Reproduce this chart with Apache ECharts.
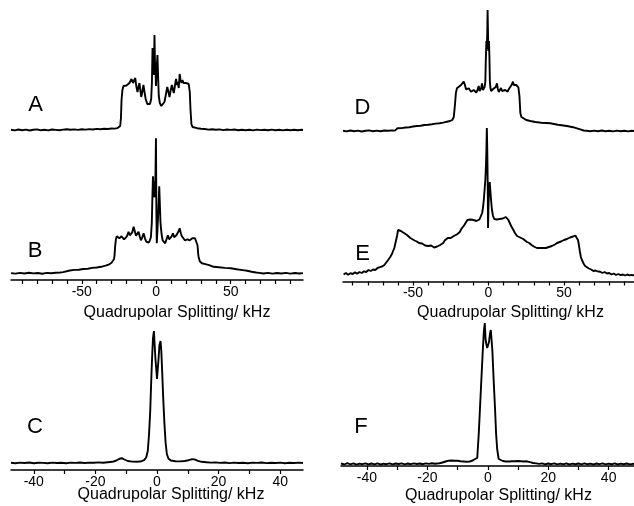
<!DOCTYPE html>
<html>
<head>
<meta charset="utf-8">
<script src="https://cdn.jsdelivr.net/npm/echarts@6/dist/echarts.min.js"></script>
<style>
  html, body { margin: 0; padding: 0; background: #fff; }
  #chart { width: 634px; height: 506px; }
</style>
</head>
<body>
<div id="chart"></div>
<script>
// spectra: [splitting kHz, intensity (arb.)]
const specA = [[-97.5,0.3],[-95,-0.4],[-92.5,0.5],[-90,-0.2],[-87.5,0.4],[-85,-0.5],[-82.5,0.3],[-80,0.6],[-77.5,-0.3],[-75,0.2],[-72.5,-0.4],[-70,0.5],[-67.5,0.1],[-65,-0.3],[-62.5,0.4],[-60,0.8],[-57.5,0.2],[-55,0.6],[-52.5,0.1],[-50,0.7],[-47.5,0.4],[-45,0.9],[-42.5,0.5],[-40,1.1],[-37.5,0.8],[-35,1.2],[-32.5,1.0],[-30,1.5],[-28,1.4],[-26,1.9],[-24.8,2.2],[-24.2,4],[-23.7,12],[-23.3,30],[-22.7,40],[-22,44],[-21,45],[-20,44.5],[-19,46],[-18,47],[-17.3,46],[-16.6,51],[-16.2,53],[-15.6,47],[-15.2,49],[-14.6,46],[-14.1,52],[-13.4,44],[-12.6,38],[-11.9,43],[-11.3,47],[-10.7,40],[-10.1,33],[-9.4,38],[-8.6,45],[-7.9,38],[-7.1,31],[-6,26],[-5.1,24],[-4.2,26],[-3.4,31],[-2.9,48],[-2.5,82],[-2.2,60],[-1.9,72],[-1.5,55],[-1.2,95],[-0.9,70],[-0.5,60],[-0.2,44],[0.3,60],[0.8,75],[1.2,55],[1.7,34],[2.4,27],[3.4,24],[4.5,25],[5.5,28],[6.4,35],[7.4,43],[8.2,38],[8.9,33],[9.7,40],[10.5,45],[11.2,40],[11.8,37],[12.6,45],[13.3,51],[13.9,45],[14.5,48],[15.1,42],[15.7,56],[16.3,50],[16.9,47],[17.6,50],[18.3,47],[19.1,48],[20,47],[21,47],[21.8,46],[22.5,38],[23,20],[23.6,6],[24.3,3],[25.5,2.2],[27.5,1.8],[30,1.2],[32.5,1.0],[35,0.4],[37.5,0.8],[40,0.3],[42.5,0.6],[45,-0.1],[47.5,0.5],[50,0.1],[52.5,0.5],[55,-0.2],[57.5,0.3],[60,-0.3],[62.5,0.2],[65,-0.4],[67.5,0.4],[70,-0.1],[72.5,0.3],[75,-0.3],[77.5,0.4],[80,-0.2],[82.5,0.3],[85,-0.4],[87.5,0.2],[90,-0.3],[92.5,0.3],[95,-0.2],[97.5,0.2],[98.5,0]];

const specB = [[-97.5,0.2],[-94.5,-0.3],[-91.5,0.4],[-88.5,-0.2],[-85.5,0.5],[-82.5,-0.1],[-79.5,0.3],[-76.5,-0.4],[-73.5,0.4],[-70.5,0.1],[-67.5,0.6],[-64.5,0.8],[-62.5,1.2],[-61.5,2.4],[-58,2.8],[-55,3.4],[-52,3.6],[-49,4.3],[-46,4.6],[-43,5.4],[-40,5.8],[-37,6.5],[-34,7.6],[-31.5,9],[-30,10.5],[-29,12.5],[-28.4,14],[-28,18],[-27.6,27],[-27.1,34],[-26.5,37],[-25.6,36],[-24.8,35],[-24.2,35.5],[-23.3,37],[-22.4,36],[-21.6,34],[-20.8,33],[-19.7,37],[-18.6,41.6],[-17.8,38],[-17,36],[-16.1,41],[-15.2,46.6],[-14.4,42],[-13.6,37.6],[-12.8,38.5],[-11.9,41.6],[-11.1,37],[-10.3,33],[-9.4,36],[-8.5,40],[-7.6,35],[-6.7,31.6],[-5.9,30],[-5.1,30.6],[-4.3,33],[-3.6,36],[-3,50],[-2.6,75],[-2.2,97],[-1.9,82],[-1.6,92],[-1.3,76],[-0.9,80],[-0.5,100],[-0.2,135],[0.1,60],[0.35,30],[0.7,40],[1.1,53],[1.6,70],[2,87],[2.4,70],[2.8,52],[3.1,46],[3.7,38],[4.3,33],[5.1,31],[6,30],[6.9,34],[7.8,38],[8.6,34],[9.4,33],[10.3,37],[11.2,40],[12,36],[12.8,35],[13.5,38],[14.3,40],[15,42],[15.7,45],[16.5,40],[17.2,37],[17.8,38],[18.3,36],[19.2,33],[20.1,31.6],[20.9,34],[21.7,35],[22.5,33],[23.3,33],[24.2,35],[25.1,36],[26,35],[26.8,36.6],[27.3,33],[27.7,28],[28.1,20],[28.4,16.6],[29.2,12],[30.6,10],[33,9.2],[36,8],[38.5,6.5],[42,6],[46,5.4],[50,5],[54,4],[58,3.2],[61,2.6],[64,1.6],[67,0.8],[69,0.4],[72,-0.2],[75,0.4],[78,-0.3],[81,0.3],[84,-0.2],[87,0.4],[90,-0.3],[93,0.3],[96,-0.2],[98.5,0.2]];

const specC = [[-47.4,0.3],[-46,-0.2],[-44.5,0.4],[-43,0],[-41.5,0.5],[-40,-0.2],[-38.5,0.3],[-37,0.1],[-35.5,-0.3],[-34,0.4],[-32.5,0],[-31,0.3],[-29.5,-0.2],[-28,0.4],[-26.5,0.1],[-25,0.5],[-23.5,0],[-22,0.4],[-20.5,0.2],[-19,0.6],[-17.5,0.3],[-16,0.8],[-14.5,1.2],[-13.2,2.5],[-12.2,4.3],[-11.4,4.8],[-10.6,3.5],[-9.5,2],[-8,1.4],[-6.5,1.3],[-5,1.8],[-4.2,2.8],[-3.5,5.5],[-3,12],[-2.6,28],[-2.2,52],[-1.9,80],[-1.6,105],[-1.3,125],[-1,132],[-0.8,120],[-0.5,104],[-0.3,96],[0,84],[0.2,86],[0.5,104],[0.8,118],[1.15,122],[1.4,112],[1.7,90],[2,66],[2.4,40],[2.8,20],[3.2,9],[3.7,4.5],[4.5,2.5],[6,1.8],[7.5,1.6],[9,2],[10.2,2.8],[11.2,3.7],[12.2,3.6],[13.3,2.2],[14.5,1.2],[16,0.8],[17.5,0.4],[19,0.6],[20.5,0.1],[22,0.5],[23.5,-0.1],[25,0.4],[26.5,0],[28,0.3],[29.5,-0.2],[31,0.4],[32.5,0.1],[34,0.5],[35.5,-0.1],[37,0.3],[38.5,0],[40,0.4],[41.5,-0.2],[43,0.3],[44.5,0],[46,0.4],[47.4,0]];

const specD = [[-96.4,0.3],[-94,-0.4],[-91.5,0.5],[-89,-0.2],[-86.5,0.4],[-84,-0.5],[-81.5,0.3],[-79,0.6],[-76.5,-0.2],[-74,0.4],[-71.5,-0.3],[-69,0.5],[-66.5,0.2],[-64,0.6],[-62,0.4],[-61,1.5],[-60.3,2.7],[-57.5,2.9],[-55,3.5],[-52.5,3.8],[-50,4.5],[-47.5,5],[-45,5.2],[-42.5,6],[-40,6.3],[-37.5,6.8],[-35,7.4],[-32.5,7.8],[-30,8.4],[-27.5,9.3],[-25.5,10],[-24,11],[-23,14],[-22.3,25],[-21.6,38],[-20.9,42.7],[-19.8,44],[-18.2,46],[-17.3,45],[-16.4,49.3],[-15.6,46],[-14.9,41.7],[-14,42.5],[-13.1,42.7],[-12.3,41],[-11.6,39.3],[-10.7,40.5],[-9.8,41],[-8.9,39],[-8.1,38.3],[-7.3,41],[-6.5,45],[-5.9,40],[-5.4,39.3],[-4.8,43],[-4.3,47.7],[-3.7,41],[-3.2,39.3],[-2.6,44],[-2.1,49],[-1.8,70],[-1.4,90],[-1.1,82],[-0.8,100],[-0.6,121],[-0.35,100],[-0.1,80],[0.3,90],[0.6,75],[0.9,50],[1.2,44],[1.7,40],[2.3,39],[3.1,42],[3.9,42.7],[4.8,44],[5.6,47.7],[6.2,42],[6.8,39],[7.5,41],[8.3,43],[9,40],[9.6,40],[10.3,41],[11.1,41],[11.9,40],[12.7,39.3],[13.5,42],[14.4,44],[15.3,46],[16.2,49.3],[16.8,46],[17.4,45],[17.9,46],[18.4,46],[19.1,44.5],[19.8,43.7],[20.5,35],[21.1,18],[21.8,14],[22.8,12.7],[25,11],[27.7,10],[31,9],[35,8.3],[40.9,7.7],[46,6.3],[52,5],[56,3.8],[60.8,1.7],[63,0.5],[65,0.2],[67.5,-0.3],[70,0.4],[72.5,-0.2],[75,0.5],[77.5,-0.3],[80,0.3],[82.5,-0.4],[85,0.4],[87.5,-0.2],[90,0.3],[92.5,-0.4],[95,0.3],[96.4,0]];

const specE = [[-96,1.5],[-94.5,3],[-93,1.2],[-91.5,2.8],[-90,2],[-88.5,3.6],[-87,2.4],[-85.5,4],[-84,3],[-82.5,4.6],[-81,4],[-79.5,6],[-78,5],[-76.5,6.5],[-75,6],[-73.5,8],[-72,8.8],[-70.5,9.5],[-69,11],[-68,12.7],[-66.5,16],[-65,19.3],[-64,22],[-63.2,25],[-62.4,28],[-61.5,34],[-60.6,40],[-59.9,46],[-59.5,48],[-58.8,47],[-58,45],[-57,44.5],[-56,43],[-55,41.5],[-54,41],[-53,40],[-51.8,38],[-50.5,37],[-49,35.5],[-47.5,34.5],[-46,33],[-45,31.5],[-44,32.5],[-43,31],[-42,30.5],[-41,31.5],[-40,30],[-39,29.5],[-38,30.5],[-37,29],[-36,28.5],[-35,30],[-34,29.5],[-33,30.5],[-32,31],[-31,32],[-30,33],[-29,35.5],[-28,37],[-27,38],[-26,38.5],[-25,38],[-24,39.5],[-23,40],[-22,40.5],[-21,41.5],[-20,42],[-19,44],[-18,47],[-17,49],[-16,51],[-15,53.5],[-14,56],[-13,57],[-12,56.5],[-11,57.5],[-10,56],[-9,55.5],[-8,55],[-7,55.5],[-6,56.5],[-5,58],[-4.2,63],[-3.5,70],[-3,78],[-2.5,88],[-2.1,96],[-1.7,110],[-1.4,125],[-1.1,148],[-0.8,125],[-0.5,90],[-0.3,48],[0,70],[0.4,88],[0.8,94],[1.2,86],[1.7,76],[2.3,66],[3,60],[3.8,57],[4.5,56],[5.5,56.5],[6.5,56],[7.5,57],[8.5,56.5],[9.5,57.5],[10.5,58],[11.5,59],[12.3,58],[13.2,56],[14,54],[15,50],[15.6,48],[16.5,46],[17.5,43],[18.9,40],[20,39],[21,38.5],[22,38],[23,37],[24,36],[25.5,34],[27,33],[28.5,31],[30,29.5],[31,29],[32.1,28],[33,27],[34,28],[35,27.5],[36,28],[37,27],[38,28],[38.7,28],[40,29],[41,28.5],[42,30],[43,31],[44,31.5],[45.4,33],[46.5,33.5],[48,34.5],[49,35],[50,36],[51,36.5],[52,37],[53,37.5],[54,38.5],[55,38],[56,39.5],[57,40],[57.5,40.5],[58.5,39],[59.3,36],[59.9,31],[60.6,24],[61.2,19],[61.9,16],[63,12.5],[64,10],[65.2,8],[66.5,7.5],[68,6.5],[69.5,5],[71,5.5],[72.5,4.5],[74,4.3],[75.5,3],[77,4],[78.5,2.5],[80,3],[81.5,1.5],[83,2.5],[84.5,1],[86,2],[87.5,0.8],[89,1.5],[90.5,0.5],[92,1.5],[93.5,0.6],[95,1.2],[96.4,0.5]];

const specF = [[-48.6,0.5],[-47.5,-0.5],[-46.5,0.8],[-45.5,-0.3],[-44.5,0.6],[-43.5,-0.6],[-42.5,0.4],[-41.5,-0.2],[-40.5,0.7],[-39.5,-0.4],[-38.5,0.5],[-37.5,-0.3],[-36.5,0.6],[-35.5,-0.5],[-34.5,0.3],[-33.5,-0.2],[-32.5,0.6],[-31.5,-0.4],[-30.5,0.5],[-29.5,0],[-28.5,0.6],[-27.5,-0.3],[-26.5,0.5],[-25.5,-0.2],[-24.5,0.6],[-23.5,0],[-22.5,0.5],[-21.5,-0.2],[-20.5,0.6],[-19.5,0.1],[-18.5,0.7],[-17.5,0.3],[-16,0.8],[-15,1.5],[-14,2.5],[-13,3.3],[-12,3.5],[-11,3.2],[-10,3.3],[-9,2.8],[-8,2.5],[-7,2.2],[-6,2.5],[-5,3.5],[-4.2,5],[-3.5,6],[-3,30],[-2.6,55],[-2.2,80],[-1.65,114],[-1.3,133],[-1,141],[-0.75,125],[-0.5,120],[-0.2,116],[0.1,114],[0.4,122],[0.7,130],[1,134],[1.5,114],[2,80],[2.4,55],[2.75,30],[3.1,15],[3.6,5],[4.2,4],[5,3],[6,2.5],[7,2.5],[8,2.8],[9,2.7],[10,3],[11,2.8],[12,2.5],[13,2.7],[14,1.8],[15,1],[16,0.6],[17,0.1],[18,0.6],[19,-0.3],[20,0.5],[21,-0.2],[22,0.6],[23,-0.4],[24,0.4],[25,-0.3],[26,0.6],[27,-0.5],[28,0.4],[29,-0.2],[30,0.5],[31,-0.4],[32,0.6],[33,-0.3],[34,0.4],[35,-0.5],[36,0.5],[37,-0.2],[38,0.6],[39,-0.4],[40,0.4],[41,-0.3],[42,0.6],[43,-0.5],[44,0.4],[45,-0.2],[46,0.5],[47,-0.4],[48.4,0.3]];

const wideTicks = [-90, -80, -70, -60, -50, -40, -30, -20, -10, 0, 10, 20, 30, 40, 50, 60, 70, 80, 90];
const wideLabels = [-50, 0, 50];
const narrowTicks = [-40, -30, -20, -10, 0, 10, 20, 30, 40];
const narrowLabels = [-40, -20, 0, 20, 40];
const axisTitle = 'Quadrupolar Splitting/ kHz';
const letters = ['A', 'B', 'C', 'D', 'E', 'F'];

const FONT = '"Liberation Sans", Arial, sans-serif';

// one grid per trace; A/D share the x range of B/E but draw no axis
const panels = [
    { data: specA, grid: { left: 11, top: 30, width: 292, height: 105 }, x: [-97.5, 98.5], y: [-5, 100], axis: false },
    { data: specB, grid: { left: 11, top: 130, width: 292, height: 150 }, x: [-97.5, 98.5], y: [-6.7, 143.3], axis: true, ticks: wideTicks, labels: wideLabels },
    { data: specC, grid: { left: 11, top: 320, width: 292, height: 150 }, x: [-47.4, 47.4], y: [-7, 143], axis: true, ticks: narrowTicks, labels: narrowLabels },
    { data: specD, grid: { left: 343, top: 1, width: 291, height: 135 }, x: [-96.4, 96.4], y: [-5, 130], axis: false },
    { data: specE, grid: { left: 343, top: 121.5, width: 291, height: 160 }, x: [-96.4, 96.4], y: [-5.5, 154.5], axis: true, ticks: wideTicks, labels: wideLabels },
    { data: specF, grid: { left: 341, top: 316, width: 293, height: 150 }, x: [-48.6, 48.4], y: [-2, 148], axis: true, ticks: narrowTicks, labels: narrowLabels }
];

// label / title positions
const letterPos = [[35.5, 105], [35, 251], [35, 426.5], [362.5, 107.5], [362.5, 253.5], [361, 426.5]];
const titlePos = [[177, 313], [171, 495], [510.5, 313], [498.5, 496]];

var chart = echarts.init(document.getElementById('chart'), null, { renderer: 'canvas' });

var option = {
    animation: false,
    backgroundColor: '#fff',
    grid: panels.map(p => p.grid),
    xAxis: panels.map((p, i) => ({
        type: 'value',
        gridIndex: i,
        min: p.x[0],
        max: p.x[1],
        show: p.axis,
        splitLine: { show: false },
        axisLine: { show: true, onZero: false, lineStyle: { color: '#000', width: 1.5 } },
        axisTick: p.axis ? { show: true, length: 4, customValues: p.ticks, lineStyle: { color: '#000', width: 1.2 } } : { show: false },
        axisLabel: p.axis ? { show: true, customValues: p.labels, color: '#000', fontSize: 14, fontFamily: FONT, margin: 5 } : { show: false }
    })),
    yAxis: panels.map((p, i) => ({
        type: 'value',
        gridIndex: i,
        min: p.y[0],
        max: p.y[1],
        show: false
    })),
    series: panels.map((p, i) => ({
        type: 'line',
        xAxisIndex: i,
        yAxisIndex: i,
        data: p.data,
        showSymbol: false,
        symbol: 'none',
        clip: false,
        lineStyle: { color: '#000', width: 1.9 }
    })),
    graphic: letters.map((t, i) => ({
        type: 'text',
        x: letterPos[i][0],
        y: letterPos[i][1],
        style: { text: t, font: '22px ' + FONT, fill: '#000', textAlign: 'center', textVerticalAlign: 'middle' }
    })).concat(titlePos.map(pos => ({
        type: 'text',
        x: pos[0],
        y: pos[1],
        style: { text: axisTitle, font: '16px ' + FONT, fill: '#000', textAlign: 'center', textVerticalAlign: 'middle' }
    })))
};

chart.setOption(option);
</script>
</body>
</html>
